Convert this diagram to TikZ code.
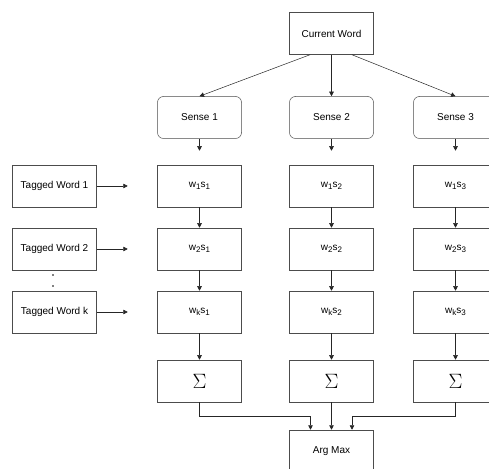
\documentclass[tikz,border=0pt]{standalone}
\usepackage{fontspec}
\setmainfont{Liberation Sans}
\usepackage{amsmath, amssymb}
\usepackage{tikz}
\usetikzlibrary{arrows.meta, positioning}

\newcommand{\lowsub}[1]{\raisebox{-2.6pt}{\fontsize{8}{8}\selectfont #1}}
\tikzset{
  box/.style={draw=black!70, line width=0.5pt, minimum width=84pt, minimum height=42pt, inner sep=0pt, font=\fontsize{10}{12}\selectfont},
  sensebox/.style={box, rounded corners=6pt},
  sumbox/.style={box, font=\fontsize{21}{24}\selectfont},
  arr/.style={draw=black!85, line width=0.5pt, -{Triangle[length=4.5pt,width=4.5pt]}}
}

\begin{document}
\begin{tikzpicture}[x=1pt,y=1pt]
\useasboundingbox (0,0) rectangle (489,468);
\clip (0,0) rectangle (489,468);
\node[box] (cw) at (331.5,434.5) {Current Word};
\node[sensebox] (s1) at (199.5,350.5) {Sense 1};
\node[sensebox] (s2) at (331.5,350.5) {Sense 2};
\node[sensebox] (s3) at (455.5,350.5) {Sense 3};
\node[box] (t1) at (54.5,282) {Tagged Word 1};
\node[box] (t2) at (54.5,219) {Tagged Word 2};
\node[box] (tk) at (54.5,156) {Tagged Word k};
\node[box] (w11) at (199.5,282) {w\lowsub{1}s\lowsub{1}};
\node[box] (w12) at (331.5,282) {w\lowsub{1}s\lowsub{2}};
\node[box] (w13) at (455.5,282) {w\lowsub{1}s\lowsub{3}};
\node[box] (w21) at (199.5,219) {w\lowsub{2}s\lowsub{1}};
\node[box] (w22) at (331.5,219) {w\lowsub{2}s\lowsub{2}};
\node[box] (w23) at (455.5,219) {w\lowsub{2}s\lowsub{3}};
\node[box] (wk1) at (199.5,156) {w\lowsub{k}s\lowsub{1}};
\node[box] (wk2) at (331.5,156) {w\lowsub{k}s\lowsub{2}};
\node[box] (wk3) at (455.5,156) {w\lowsub{k}s\lowsub{3}};
\node[sumbox] (sum1) at (199.5,87) {$\Sigma$};
\node[sumbox] (sum2) at (331.5,87) {$\Sigma$};
\node[sumbox] (sum3) at (455.5,87) {$\Sigma$};
\node[box] (am) at (331.5,17) {Arg Max};
\fill (53,193) circle(0.8); \fill (53,182) circle(0.8);
\coordinate[below=12pt of s1.south] (e1);
\coordinate[below=12pt of s2.south] (e2);
\coordinate[below=12pt of s3.south] (e3);
\coordinate[right=31pt of t1.east] (f1);
\coordinate[right=31pt of t2.east] (f2);
\coordinate[right=31pt of tk.east] (fk);
\draw[arr] ([xshift=-21.5pt]cw.south) -- (s1.north);
\draw[arr] (cw.south) -- (s2.north);
\draw[arr] ([xshift=20.5pt]cw.south) -- (s3.north);
\draw[arr] (s1.south) -- (e1); \draw[arr] (s2.south) -- (e2); \draw[arr] (s3.south) -- (e3);
\draw[arr] (t1.east) -- (f1); \draw[arr] (t2.east) -- (f2); \draw[arr] (tk.east) -- (fk);
\draw[arr] (w11) -- (w21); \draw[arr] (w21) -- (wk1); \draw[arr] (wk1) -- (sum1);
\draw[arr] (w12) -- (w22); \draw[arr] (w22) -- (wk2); \draw[arr] (wk2) -- (sum2);
\draw[arr] (w13) -- (w23); \draw[arr] (w23) -- (wk3); \draw[arr] (wk3) -- (sum3);
\draw[arr] (sum1.south) -- ++(0,-14) -| ([xshift=-21pt]am.north);
\draw[arr] (sum2) -- (am);
\draw[arr] (sum3.south) -- ++(0,-14) -| ([xshift=20.5pt]am.north);
\end{tikzpicture}
\end{document}
